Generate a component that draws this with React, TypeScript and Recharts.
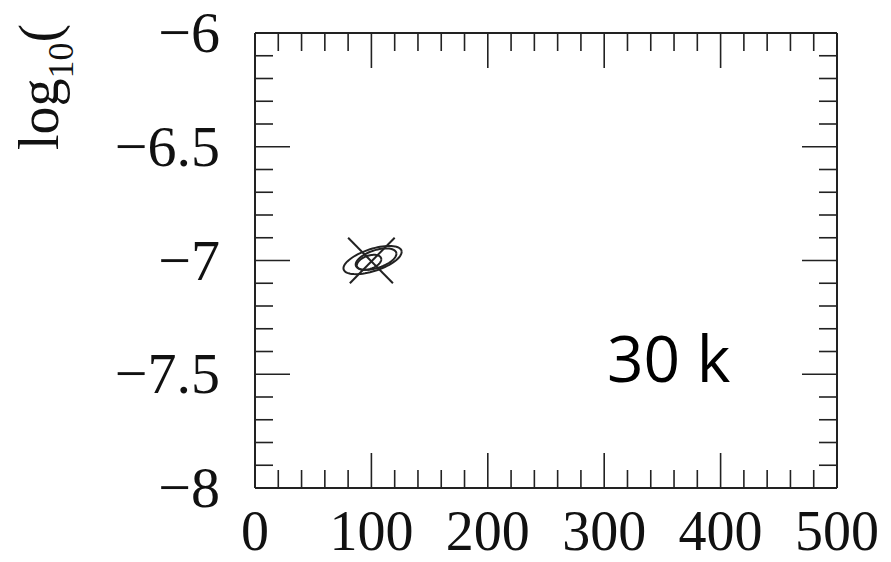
import { ComposedChart, Scatter, XAxis, YAxis } from 'recharts';

// axis ticks
const xTicks = [0, 20, 40, 60, 80, 100, 120, 140, 160, 180, 200, 220, 240, 260, 280, 300, 320, 340, 360, 380, 400, 420, 440, 460, 480, 500];
const xLabelTicks = [0, 100, 200, 300, 400, 500];
const yTicks = [-8, -7.9, -7.8, -7.7, -7.6, -7.5, -7.4, -7.3, -7.2, -7.1, -7, -6.9, -6.8, -6.7, -6.6, -6.5, -6.4, -6.3, -6.2, -6.1, -6];
const yLabelTicks = [-8, -7.5, -7, -6.5, -6];

// best-fit cross (two strokes)
const crossA = [{ x: 80, y: -6.9 }, { x: 118.5, y: -7.1 }];
const crossB = [{ x: 81.5, y: -7.1 }, { x: 120, y: -6.9 }];

// confidence contours: centre, spread in x and y, correlation
const contours = [
  { cx: 101, cy: -6.998, sx: 25, sy: 0.062, rho: 0.58 },
  { cx: 104, cy: -6.994, sx: 17.5, sy: 0.047, rho: 0.5 },
  { cx: 98, cy: -7.008, sx: 10.5, sy: 0.033, rho: 0.4 },
];

const panelLabel = '30 k';

function contourPoints(c: { cx: number; cy: number; sx: number; sy: number; rho: number }) {
  const phi = Math.acos(c.rho);
  const pts = [];
  for (let i = 0; i <= 72; i++) {
    const t = (i / 72) * Math.PI * 2;
    pts.push({ x: c.cx + c.sx * Math.cos(t), y: c.cy + c.sy * Math.cos(t - phi) });
  }
  return pts;
}

const INK = '#222';
const SERIF = '"Liberation Serif", "Times New Roman", serif';
const MINOR = 18;
const MAJOR = 35;

const fmtY = (v: number) => '\u2212' + String(Math.abs(v));

function BottomTick(p: any) {
  const v = p.payload.value;
  const major = xLabelTicks.includes(v);
  return (
    <g>
      <line x1={p.x} x2={p.x} y1={p.y} y2={p.y - (major ? MAJOR : MINOR)} stroke={INK} strokeWidth={1.6} />
      {major && (
        <text x={p.x} y={p.y + 62} textAnchor="middle" fontSize={56} fontFamily={SERIF} fill="#111">
          {v}
        </text>
      )}
    </g>
  );
}

function TopTick(p: any) {
  const major = xLabelTicks.includes(p.payload.value);
  return (
    <g>
      <line x1={p.x} x2={p.x} y1={p.y} y2={p.y + (major ? MAJOR : MINOR)} stroke={INK} strokeWidth={1.6} />
    </g>
  );
}

function LeftTick(p: any) {
  const v = p.payload.value;
  const major = yLabelTicks.includes(v);
  return (
    <g>
      <line x1={p.x} x2={p.x + (major ? MAJOR : MINOR)} y1={p.y} y2={p.y} stroke={INK} strokeWidth={1.6} />
      {major && (
        <text x={p.x - 35} y={p.y + 19} textAnchor="end" fontSize={58} fontFamily={SERIF} fill="#111">
          {fmtY(v)}
        </text>
      )}
    </g>
  );
}

function RightTick(p: any) {
  const major = yLabelTicks.includes(p.payload.value);
  return (
    <g>
      <line x1={p.x} x2={p.x - (major ? MAJOR : MINOR)} y1={p.y} y2={p.y} stroke={INK} strokeWidth={1.6} />
    </g>
  );
}

const noShape = () => null;

export default function App() {
  const axisLine = { stroke: INK, strokeWidth: 2 };
  return (
    <div style={{ position: 'absolute', left: 0, top: 0, background: '#fff' }}>
      <ComposedChart width={891} height={562} margin={{ top: 0, right: 0, bottom: 0, left: 0 }}>
        <XAxis xAxisId="b" orientation="bottom" dataKey="x" type="number" domain={[0, 500]} ticks={xTicks}
          interval={0} height={74} tickSize={0} tickMargin={0} tickLine={false} axisLine={axisLine} tick={BottomTick} />
        <XAxis xAxisId="t" orientation="top" dataKey="x" type="number" domain={[0, 500]} ticks={xTicks}
          interval={0} height={33} tickSize={0} tickMargin={0} tickLine={false} axisLine={axisLine} tick={TopTick} />
        <YAxis yAxisId="l" orientation="left" dataKey="y" type="number" domain={[-8, -6]} ticks={yTicks}
          interval={0} width={255} tickSize={0} tickMargin={0} tickLine={false} axisLine={axisLine} tick={LeftTick} />
        <YAxis yAxisId="r" orientation="right" dataKey="y" type="number" domain={[-8, -6]} ticks={yTicks}
          interval={0} width={54} tickSize={0} tickMargin={0} tickLine={false} axisLine={axisLine} tick={RightTick} />
        {contours.map((c, i) => (
          <Scatter key={'c' + i} xAxisId="b" yAxisId="l" data={contourPoints(c)} dataKey="y"
            line={{ stroke: INK, strokeWidth: 2 }} shape={noShape} isAnimationActive={false} />
        ))}
        <Scatter xAxisId="b" yAxisId="l" data={crossA} dataKey="y" line={{ stroke: INK, strokeWidth: 2 }}
          shape={noShape} isAnimationActive={false} />
        <Scatter xAxisId="t" yAxisId="r" data={crossB} dataKey="y" line={{ stroke: INK, strokeWidth: 2 }}
          shape={noShape} isAnimationActive={false} />
        <text x={607} y={382} fontSize={64} fontFamily='"Open Sans", sans-serif' fill="#000">
          {panelLabel}
        </text>
        <text x={58} y={150} transform="rotate(-90 58 150)" fontSize={56} fontFamily={SERIF} fill="#111">
          log
          <tspan fontSize={36} dy={15}>10</tspan>
          <tspan dy={-15}>(</tspan>
        </text>
      </ComposedChart>
    </div>
  );
}
